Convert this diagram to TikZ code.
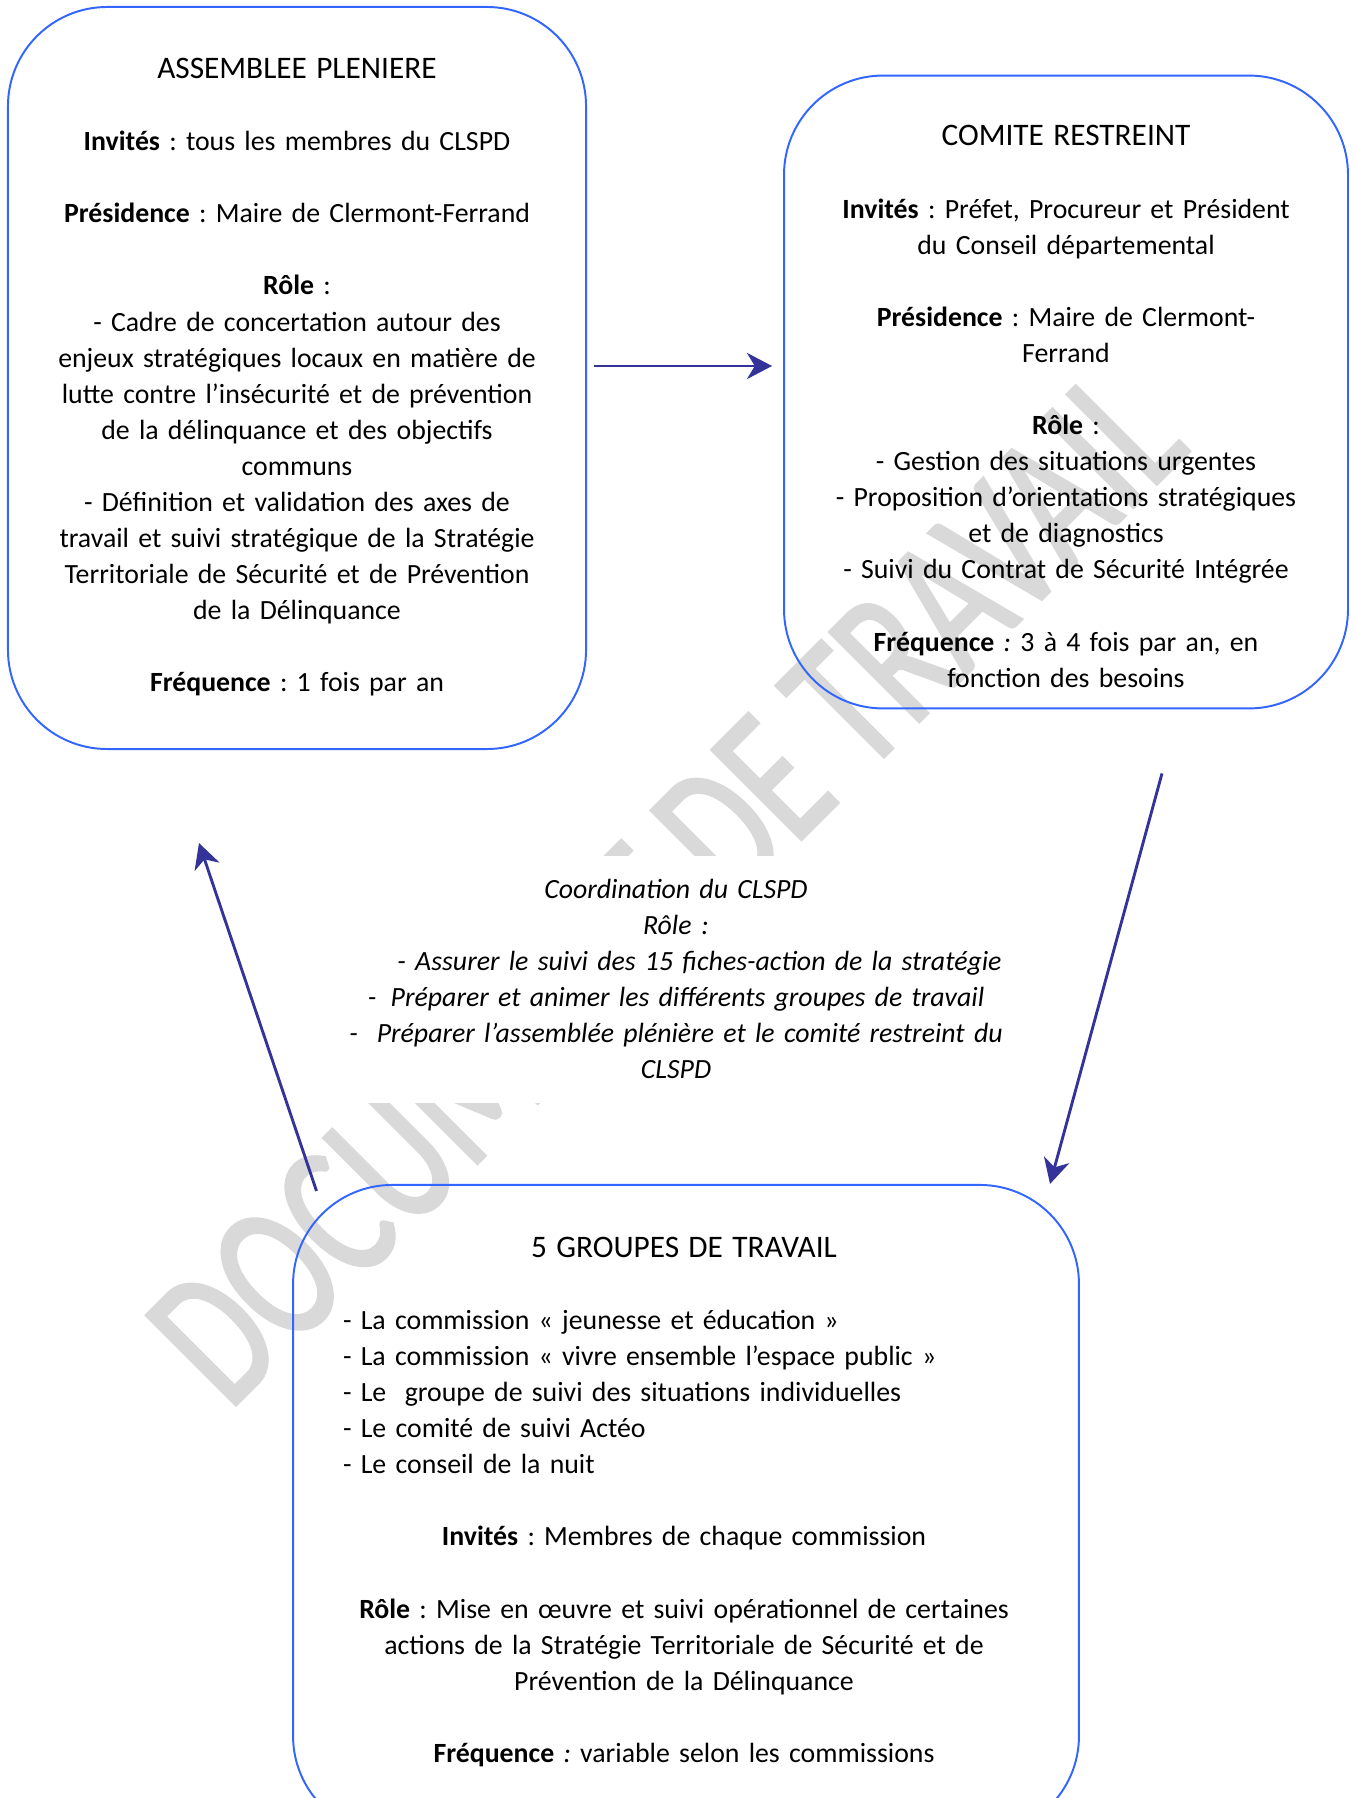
\documentclass[tikz,border=0pt]{standalone}
\usepackage{fontspec}
\setmainfont{Carlito}
\newfontfamily\wmfont[FakeStretch=0.70,FakeBold=1.5]{Carlito}
\usetikzlibrary{arrows.meta,calc}
\frenchspacing

\definecolor{boxblue}{RGB}{51,102,255}
\definecolor{arrowblue}{RGB}{51,51,153}
\definecolor{wmgray}{RGB}{217,217,217}

\newcommand{\listline}[1]{\makebox[\linewidth][l]{#1}}
\newcommand{\boxtitle}[1]{{\fontsize{12}{13.82}\selectfont #1}}

\begin{document}
\begin{tikzpicture}[x=0.383pt, y=-0.383pt,
    box/.style={draw=boxblue, line width=0.75pt, rounded corners=38pt},
    boxtext/.style={anchor=base, align=center, inner sep=0pt, font=\fontsize{10.65}{13.82}\selectfont},
    link/.style={draw=arrowblue, line width=1.1pt, -{Stealth[length=9.6pt,width=10pt,inset=3pt]}}]

    \useasboundingbox (0,0) rectangle (1354,1798);

    % filigrane
    \node[anchor=base west, rotate=45, inner sep=0pt, text=wmgray,
          font=\wmfont\fontsize{75.8}{80}\selectfont] (wm) at (229,1412) {DOCUMENT DE TRAVAIL};

    \begin{scope}[every node/.style={box}]
        \node[minimum width=221.4pt, minimum height=284.2pt] (ap) at (297,378) {};
        \node[minimum width=216pt, minimum height=242.4pt] (cr) at (1066,392) {};
        \node[minimum width=301pt, minimum height=249pt] (gt) at (686,1510) {};
    \end{scope}

    \node[boxtext, text width=210pt] (aptxt) at ($(ap.north)+(0,72.5)$) {%
        \boxtitle{ASSEMBLEE PLENIERE}\\[13.82pt]
        \textbf{Invités} : tous les membres du CLSPD\\[13.82pt]
        \textbf{Présidence} : Maire de Clermont-Ferrand\\[13.82pt]
        \textbf{Rôle} :\\
        - Cadre de concertation autour des\\
        enjeux stratégiques locaux en matière de\\
        lutte contre l’insécurité et de prévention\\
        de la délinquance et des objectifs\\
        communs\\
        - Définition et validation des axes de\\
        travail et suivi stratégique de la Stratégie\\
        Territoriale de Sécurité et de Prévention\\
        de la Délinquance\\[13.82pt]
        \textbf{Fréquence} : 1 fois par an};

    \node[boxtext, text width=205pt] (crtxt) at ($(cr.north)+(0,71.3)$) {%
        \boxtitle{COMITE RESTREINT}\\[13.82pt]
        \textbf{Invités} : Préfet, Procureur et Président\\
        du Conseil départemental\\[13.82pt]
        \textbf{Présidence} : Maire de Clermont-\\
        Ferrand\\[13.82pt]
        \textbf{Rôle} :\\
        - Gestion des situations urgentes\\
        - Proposition d’orientations stratégiques\\
        et de diagnostics\\
        - Suivi du Contrat de Sécurité Intégrée\\[13.82pt]
        \textbf{Fréquence} \textit{:} 3 à 4 fois par an, en\\
        fonction des besoins};

    \node[boxtext, text width=261.2pt] (gttxt) at ($(gt.north)+(-2,73.3)$) {%
        \boxtitle{5 GROUPES DE TRAVAIL}\\[13.82pt]
        \listline{- La commission « jeunesse et éducation »}\\
        \listline{- La commission « vivre ensemble l’espace public »}\\
        \listline{- Le \ groupe de suivi des situations individuelles}\\
        \listline{- Le comité de suivi Actéo}\\
        \listline{- Le conseil de la nuit}\\[13.82pt]
        \textbf{Invités} : Membres de chaque commission\\[13.82pt]
        \textbf{Rôle} : Mise en œuvre et suivi opérationnel de certaines\\
        actions de la Stratégie Territoriale de Sécurité et de\\
        Prévention de la Délinquance\\[13.82pt]
        \textbf{Fréquence} \textit{:} variable selon les commissions};

    % coordination
    \node[boxtext, text width=300pt, fill=white, inner sep=9pt,
          font=\fontsize{10.65}{13.82}\selectfont\itshape] (coord) at (676,898.5) {%
        Coordination du CLSPD\\
        Rôle\hspace{0.35em}:\\
        \hspace*{18pt}- Assurer le suivi des 15 fiches-action de la stratégie\\
        -\hspace{5.5pt}Préparer et animer les différents groupes de travail\\
        -\hspace{7.2pt}Préparer l’assemblée plénière et le comité restreint du\\
        CLSPD};

    \coordinate (a1s) at ($(ap.east)+(7,-12)$);
    \coordinate (a1e) at ($(cr.west)+(-11,-26)$);
    \coordinate (a2s) at ($(cr.south)+(96,64)$);
    \coordinate (a2e) at ($(gt.north)+(364,0)$);
    \coordinate (a3s) at ($(gt.north)+(-369.5,7)$);
    \coordinate (a3e) at ($(ap.south)+(-98,93)$);

    \draw[link] (a1s) -- (a1e);
    \draw[link] (a2s) -- (a2e);
    \draw[link] (a3s) -- (a3e);

\end{tikzpicture}
\end{document}
